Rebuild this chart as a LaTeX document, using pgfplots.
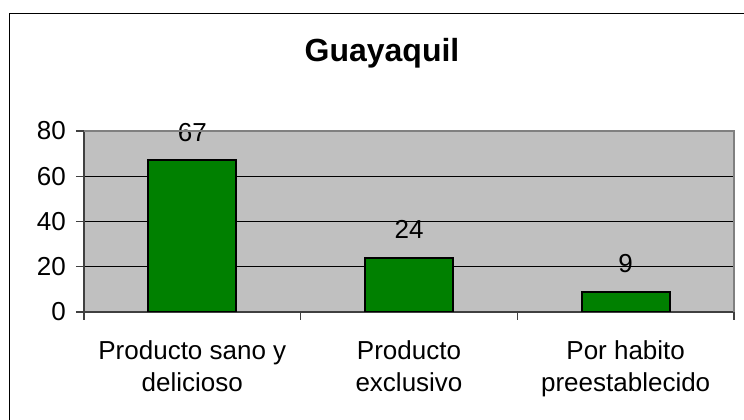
\documentclass[border=0pt]{standalone}
\usepackage{pgfplots}
\pgfplotsset{compat=1.18}
\usepackage{fontspec}
\setmainfont{Liberation Sans}
\definecolor{plotgray}{HTML}{C0C0C0}
\definecolor{bargreen}{HTML}{008000}
\definecolor{framegray}{HTML}{808080}
\definecolor{axisgray}{HTML}{404040}
\begin{document}
\begin{tikzpicture}
\useasboundingbox (0,0) rectangle (744bp,420bp);
\draw[black, line width=1bp] (9bp,-3bp) -- (9bp,406bp) -- (747bp,406bp);
\node[font=\fontsize{32bp}{36bp}\selectfont\bfseries, anchor=base, inner sep=0pt] at (382bp,358bp) {Guayaquil};
\begin{axis}[
  at={(84bp,108bp)}, anchor=south west,
  scale only axis, width=650bp, height=181bp,
  xmin=0.5, xmax=3.5, ymin=0, ymax=80,
  ytick={0,20,40,60,80},
  xtick={0.5,1.5,2.5,3.5},
  xticklabels={},
  extra x ticks={1,2,3},
  extra x tick labels={{Producto sano y\\delicioso},{Producto\\exclusivo},{Por habito\\preestablecido}},
  extra x tick style={major tick length=0pt, grid=none,
     xticklabel style={align=center, anchor=north, inner sep=0pt, yshift=-28bp,
       font=\fontsize{26bp}{32.5bp}\selectfont}},
  axis lines*=left,
  axis line style={-, axisgray, line width=1.3bp},
  axis background/.style={fill=plotgray},
  ymajorgrids, grid style={black, line width=0.8bp},
  tick align=outside,
  major tick length=8bp,
  tick style={axisgray, line width=1.2bp},
  /pgf/number format/assume math mode=true,
  yticklabel style={font=\fontsize{26bp}{30bp}\selectfont, inner sep=0pt, xshift=-10bp},
  ybar, bar width=88bp,
  nodes near coords,
  every node near coord/.append style={font=\fontsize{26bp}{30bp}\selectfont, anchor=base, inner sep=0pt, yshift=19bp, black},
  after end axis/.code={\draw[framegray, line width=1.5bp] (rel axis cs:0,1) -- (rel axis cs:1,1) -- (rel axis cs:1,0);},
]
\addplot[fill=bargreen, draw=black, line width=2bp] coordinates {(1,67) (2,24) (3,9)};
\end{axis}
\end{tikzpicture}
\end{document}
